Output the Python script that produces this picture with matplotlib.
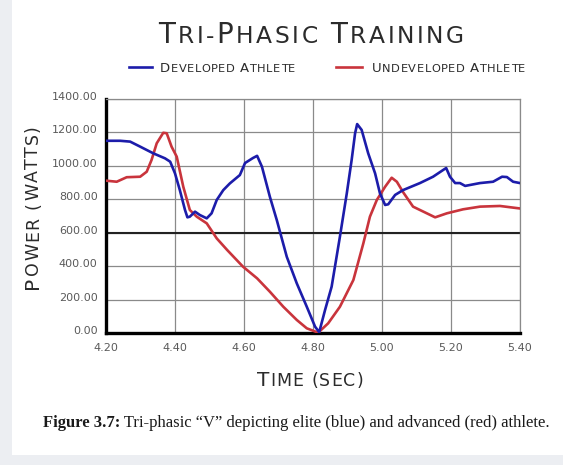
import numpy as np
import matplotlib
matplotlib.use("Agg")
import matplotlib.pyplot as plt
from matplotlib.font_manager import FontProperties
from matplotlib.transforms import IdentityTransform, ScaledTranslation
from matplotlib.lines import Line2D
from matplotlib.patches import Rectangle

# developed athlete (blue)
dev_t = [4.200, 4.241, 4.270, 4.299, 4.337, 4.371, 4.386, 4.400, 4.414, 4.429,
         4.436, 4.443, 4.458, 4.472, 4.492, 4.506, 4.521, 4.540, 4.559, 4.588,
         4.603, 4.626, 4.638, 4.652, 4.675, 4.695, 4.724, 4.753, 4.782, 4.806,
         4.818, 4.835, 4.854, 4.878, 4.898, 4.912, 4.922, 4.928, 4.941, 4.960,
         4.980, 4.994, 5.009, 5.018, 5.038, 5.061, 5.110, 5.148, 5.177, 5.186,
         5.197, 5.212, 5.226, 5.241, 5.284, 5.322, 5.348, 5.362, 5.380, 5.400]
dev_w = [1150, 1150, 1145, 1115, 1075, 1045, 1025, 955, 855, 736,
         692, 696, 726, 706, 686, 716, 796, 855, 895, 945,
         1017, 1047, 1060, 995, 815, 676, 456, 297, 157, 38,
         5, 138, 277, 576, 836, 1035, 1195, 1250, 1215, 1075,
         955, 836, 766, 770, 826, 855, 897, 935, 975, 987,
         935, 897, 897, 880, 897, 905, 935, 933, 905, 897]

# undeveloped athlete (red)
und_t = [4.202, 4.231, 4.260, 4.299, 4.318, 4.332, 4.347, 4.366, 4.376, 4.390,
         4.405, 4.424, 4.443, 4.463, 4.492, 4.521, 4.551, 4.597, 4.638, 4.675,
         4.714, 4.753, 4.782, 4.815, 4.844, 4.878, 4.917, 4.946, 4.965, 4.985,
         5.009, 5.028, 5.043, 5.062, 5.090, 5.130, 5.154, 5.188, 5.235, 5.284,
         5.342, 5.400]
und_w = [911, 905, 932, 935, 965, 1035, 1135, 1198, 1195, 1115,
         1055, 875, 736, 696, 656, 566, 497, 397, 327, 247,
         157, 78, 28, 2, 58, 157, 317, 537, 696, 796,
         875, 929, 905, 840, 756, 716, 692, 716, 740, 756,
         760, 745]

xticks = [4.2, 4.4, 4.6, 4.8, 5.0, 5.2, 5.4]
yticks = [0, 200, 400, 600, 800, 1000, 1200, 1400]

FAM = "DejaVu Sans"
BLUE = "#1c1caa"
RED = "#c9343c"
TXT = "#2b2b2b"
H = 465

fig = plt.figure(figsize=(5.63, 4.65), dpi=100, facecolor="#eceef2")
fig.add_artist(Rectangle((12, 10), 560, 460, transform=IdentityTransform(),
                         facecolor="white", edgecolor="none", zorder=-10))

ax = fig.add_axes([106 / 563, 1 - 333 / 465, 414 / 563, 234 / 465])
ax.set_facecolor("white")
ax.plot(und_t, und_w, color=RED, lw=1.9, zorder=3)
ax.plot(dev_t, dev_w, color=BLUE, lw=1.9, zorder=4)

ax.set_xlim(4.2, 5.4)
ax.set_ylim(0, 1400)
ax.set_xticks(xticks)
ax.set_yticks(yticks)
ax.set_xticklabels(["%.2f" % v for v in xticks])
ax.set_yticklabels(["%.2f" % v for v in yticks])
ax.tick_params(length=0, labelsize=8, labelcolor="#5a5a5a", pad=6)
ax.tick_params(axis="x", pad=7)
for lab in ax.get_yticklabels():
    lab.set_transform(lab.get_transform() + ScaledTranslation(0, 3 / 100, fig.dpi_scale_trans))

ax.grid(True, color="#8a8a8a", lw=0.9, zorder=1)
ax.axhline(600, color="#222222", lw=1.5, zorder=2)
for side in ["top", "right"]:
    ax.spines[side].set_color("#8a8a8a")
    ax.spines[side].set_linewidth(0.9)
for side in ["left", "bottom"]:
    ax.spines[side].set_color("black")
    ax.spines[side].set_linewidth(2.4)

r = fig.canvas.get_renderer()


def width(txt, fp):
    w1 = r.get_text_width_height_descent("|" + txt + "|", fp, ismath=False)[0]
    w0 = r.get_text_width_height_descent("||", fp, ismath=False)[0]
    return w1 - w0


def smallcaps(x, y, s, size, ratio=0.84, track=0.0, rotation=0, color=TXT, center=True):
    # fake small caps, (x, y) = baseline point in display pixels
    big = FontProperties(family=FAM, size=size)
    small = FontProperties(family=FAM, size=size * ratio)
    items = []
    for ch in s:
        fp = big if ch.isupper() else small
        c = ch.upper()
        items.append((c, fp, width(c, fp) + track))
    total = sum(i[2] for i in items) - track
    a = np.deg2rad(rotation)
    dx, dy = np.cos(a), np.sin(a)
    pos = -total / 2 if center else 0
    for c, fp, w in items:
        if c != " ":
            fig.text(x + pos * dx, y + pos * dy, c, fontproperties=fp,
                     color=color, rotation=rotation, rotation_mode="anchor",
                     ha="left", va="baseline", transform=IdentityTransform())
        pos += w


smallcaps(311, H - 43, "Tri-Phasic Training", 20, ratio=0.84, track=2.6)
smallcaps(160, H - 72, "Developed Athlete", 9.5, ratio=0.86, track=0.6, center=False)
smallcaps(372, H - 72, "Undeveloped Athlete", 9.5, ratio=0.86, track=0.6, center=False)
fig.add_artist(Line2D([129, 152], [H - 67, H - 67], color=BLUE, lw=1.9,
                      transform=IdentityTransform()))
fig.add_artist(Line2D([336, 362], [H - 67, H - 67], color=RED, lw=1.9,
                      transform=IdentityTransform()))
smallcaps(310, H - 386, "Time (sec)", 14.5, ratio=0.86, track=1.0)
smallcaps(38, H - 207, "Power (watts)", 14.5, ratio=0.86, track=1.4, rotation=90)

fb = FontProperties(family="Liberation Serif", size=12, weight="bold")
fn = FontProperties(family="Liberation Serif", size=12)
fig.text(43, H - 427, "Figure 3.7:", fontproperties=fb, color="#1a1a1a",
         transform=IdentityTransform(), va="baseline")
fig.text(43 + width("Figure 3.7:", fb), H - 427,
         " Tri-phasic \u201cV\u201d depicting elite (blue) and advanced (red) athlete.",
         fontproperties=fn, color="#1a1a1a", transform=IdentityTransform(), va="baseline")

fig.savefig("out.png", dpi=100, facecolor=fig.get_facecolor())
